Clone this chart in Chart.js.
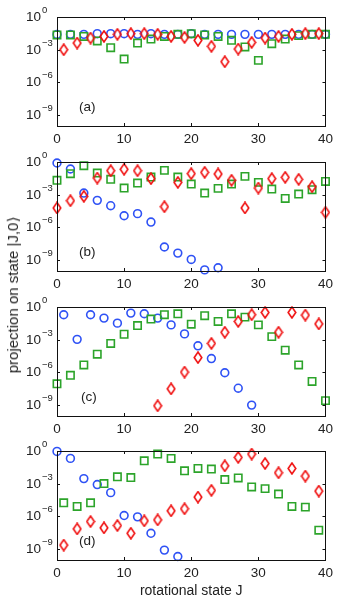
<!DOCTYPE html>
<html>
<head>
<meta charset="utf-8">
<script src="https://cdn.jsdelivr.net/npm/chart.js@4.4.0/dist/chart.umd.min.js"></script>
<style>
  body { margin: 0; background: #fff; width: 338px; height: 602px; position: relative; overflow: hidden; }
  canvas { position: absolute; left: 0; }
  #ytitle {
    position: absolute; left: 13px; top: 295px;
    transform: translate(-50%, -50%) rotate(-90deg);
    white-space: nowrap; font: 15px "Liberation Sans", Arial, sans-serif; color: #222;
  }
</style>
</head>
<body>
<canvas id="pa" width="338" height="145" style="top:0px"></canvas>
<canvas id="pb" width="338" height="145" style="top:145px"></canvas>
<canvas id="pc" width="338" height="145" style="top:290px"></canvas>
<canvas id="pd" width="338" height="168" style="top:434px"></canvas>
<div id="ytitle">projection on state |J,0⟩</div>
<script>
// rotational states
const evenJ = [0, 2, 4, 6, 8, 10, 12, 14, 16, 18, 20, 22, 24, 26, 28, 30, 32, 34, 36, 38, 40];
const oddJ = [1, 3, 5, 7, 9, 11, 13, 15, 17, 19, 21, 23, 25, 27, 29, 31, 33, 35, 37, 39];

// values are log10 of the projection
// panel (a)
const aBlueJ = evenJ;
const aBlue = [-1.6, -1.59, -1.59, -1.53, -1.53, -1.53, -1.59, -1.53, -1.59, -1.59, -1.53, -1.59, -1.59, -1.59, -1.59, -1.59, -1.59, -1.59, -1.59, -1.59, -1.59];
const aGreenJ = evenJ;
const aGreen = [-1.65, -1.65, -1.78, -2.2, -2.82, -3.86, -2.39, -2.02, -1.78, -1.59, -1.53, -1.65, -1.78, -2.14, -2.75, -3.98, -2.45, -2.02, -1.71, -1.59, -1.59];
const aRedJ = oddJ;
const aRed = [-3.0, -2.39, -1.93, -1.78, -1.59, -1.53, -1.53, -1.59, -1.78, -1.87, -2.14, -2.69, -4.1, -2.94, -2.33, -1.93, -1.78, -1.59, -1.53, -1.53];

// panel (b)
const bBlueJ = [0, 2, 4, 6, 8, 10, 12, 14, 16, 18, 20, 22, 24];
const bBlue = [-0.09, -0.64, -2.85, -3.52, -4.01, -4.93, -4.74, -5.51, -7.8, -8.36, -8.94, -9.9, -9.7];
const bGreenJ = evenJ;
const bGreen = [-1.68, -1.07, -0.34, -1.01, -1.59, -2.39, -1.93, -1.38, -0.77, -1.38, -2.02, -2.85, -2.42, -2.02, -1.32, -1.87, -2.48, -3.34, -2.94, -2.54, -1.78];
const bRedJ = evenJ;
const bRed = [-4.22, -3.55, -3.15, -1.47, -0.8, -0.67, -0.8, -1.53, -4.1, -1.87, -1.07, -0.95, -1.1, -1.68, -4.22, -2.39, -1.53, -1.41, -1.59, -2.27, -4.62];

// panel (c)
const cBlueJ = [1, 3, 5, 7, 9, 11, 13, 15, 17, 19, 21, 23, 25, 27, 29];
const cBlue = [-0.71, -2.97, -0.71, -1.02, -1.48, -0.56, -0.62, -1.02, -1.64, -2.47, -3.56, -4.73, -6.03, -7.45, -9.0];
const cGreenJ = evenJ;
const cGreen = [-7.05, -6.27, -5.32, -4.33, -3.34, -2.5, -1.7, -1.11, -0.71, -0.62, -1.58, -0.8, -1.33, -0.62, -0.93, -1.64, -2.72, -3.96, -5.32, -6.83, -8.59];
const cRedJ = [15, 17, 19, 21, 23, 25, 27, 29, 31, 33, 35, 37, 39];
const cRed = [-9.06, -7.51, -5.97, -4.64, -3.34, -2.32, -1.33, -0.71, -0.5, -2.32, -0.5, -0.74, -1.55];

// panel (d)
const dBlueJ = [0, 2, 4, 6, 8, 10, 12, 14, 16, 18];
const dBlue = [-0.04, -0.68, -2.53, -3.08, -3.82, -5.92, -6.04, -7.55, -9.09, -9.68];
const dGreenJ = oddJ;
const dGreen = [-4.75, -5.09, -4.75, -2.99, -2.37, -2.44, -0.9, -0.28, -0.68, -1.82, -1.6, -1.66, -2.62, -2.47, -3.3, -3.45, -3.95, -5.09, -5.15, -7.27];
const dRedJ = oddJ;
const dRed = [-8.63, -7.15, -6.47, -7.05, -6.84, -7.55, -6.41, -6.32, -5.49, -5.3, -4.23, -3.61, -1.36, -0.59, -0.28, -1.15, -2.0, -1.6, -2.3, -3.68];

const xTicks = [0, 10, 20, 30, 40];
const yTickExp = [0, -3, -6, -9];

const BLUE = "#2f52f5";
const GREEN = "#2ca42a";
const RED = "#f01010";
const FONT = '"Liberation Sans", Arial, sans-serif';

// tall narrow diamond marker
function diamondMarker() {
  const c = document.createElement("canvas");
  c.width = 10; c.height = 13;
  const g = c.getContext("2d");
  g.strokeStyle = RED;
  g.lineWidth = 1.6;
  g.beginPath();
  g.moveTo(5, 1); g.lineTo(8.8, 6.5); g.lineTo(5, 12); g.lineTo(1.2, 6.5);
  g.closePath();
  g.stroke();
  return c;
}
const diamond = diamondMarker();

function pts(js, vals) {
  return js.map((j, i) => ({ x: j, y: Math.pow(10, vals[i]) }));
}

// box, inward ticks, y labels with superscripts, panel letter
const framePlugin = {
  id: "frame",
  afterDraw(chart) {
    const ctx = chart.ctx;
    const a = chart.chartArea;
    const xs = chart.scales.x, ys = chart.scales.y;
    ctx.save();
    ctx.strokeStyle = "#111";
    ctx.lineWidth = 1;
    ctx.strokeRect(Math.round(a.left) + 0.5, Math.round(a.top) + 0.5, Math.round(a.right - a.left), Math.round(a.bottom - a.top));
    ctx.beginPath();
    xTicks.forEach(v => {
      const x = Math.round(xs.getPixelForValue(v)) + 0.5;
      ctx.moveTo(x, a.bottom); ctx.lineTo(x, a.bottom - 3);
      ctx.moveTo(x, a.top); ctx.lineTo(x, a.top + 3);
    });
    yTickExp.forEach(e => {
      const y = Math.round(ys.getPixelForValue(Math.pow(10, e))) + 0.5;
      ctx.moveTo(a.left, y); ctx.lineTo(a.left + 3, y);
      ctx.moveTo(a.right, y); ctx.lineTo(a.right - 3, y);
    });
    ctx.stroke();

    ctx.fillStyle = "#222";
    yTickExp.forEach(e => {
      const y = ys.getPixelForValue(Math.pow(10, e));
      ctx.font = "13.5px " + FONT;
      ctx.textAlign = "right";
      ctx.textBaseline = "alphabetic";
      ctx.fillText("10", 41, y + 4);
      ctx.font = "9.5px " + FONT;
      ctx.textAlign = "left";
      ctx.fillText(e === 0 ? "0" : "\u2212" + Math.abs(e), 42, y - 4);
    });

    ctx.font = "13.5px " + FONT;
    ctx.textAlign = "left";
    ctx.textBaseline = "middle";
    ctx.fillText(chart.options.plugins.frame.label, chart.options.plugins.frame.labelX, a.top + 90);
    ctx.restore();
  }
};

function makePanel(id, label, labelX, blue, green, red, xTitle) {
  const h = document.getElementById(id).height;
  new Chart(document.getElementById(id), {
    type: "scatter",
    data: {
      datasets: [
        { data: red, pointStyle: diamond, pointRadius: 5, borderColor: RED, clip: false },
        { data: green, pointStyle: "rect", pointRadius: 5.2, borderWidth: 1.6, borderColor: GREEN, backgroundColor: "rgba(0,0,0,0)", clip: false },
        { data: blue, pointStyle: "circle", pointRadius: 3.9, borderWidth: 1.6, borderColor: BLUE, backgroundColor: "rgba(0,0,0,0)", clip: false }
      ]
    },
    options: {
      responsive: false,
      animation: false,
      devicePixelRatio: 1,
      layout: { padding: { top: 17, right: 9, left: 0, bottom: 0 } },
      plugins: {
        legend: { display: false },
        tooltip: { enabled: false },
        frame: { label: label, labelX: labelX }
      },
      scales: {
        x: {
          type: "linear",
          min: 0, max: 40,
          grid: { display: false, drawTicks: false },
          border: { display: false },
          ticks: { stepSize: 10, padding: 5, color: "#222", font: { family: FONT, size: 13.5 } },
          title: { display: !!xTitle, text: xTitle || "", color: "#222", padding: { top: 0, bottom: 2 }, font: { family: FONT, size: 14 } },
          afterFit: s => { s.height = h - 17 - 109; }
        },
        y: {
          type: "logarithmic",
          min: 1e-10, max: 1,
          grid: { display: false, drawTicks: false },
          border: { display: false },
          ticks: { display: false },
          afterBuildTicks: s => { s.ticks = yTickExp.map(e => ({ value: Math.pow(10, e) })); },
          afterFit: s => { s.width = 57; }
        }
      }
    },
    plugins: [framePlugin]
  });
}

makePanel("pa", "(a)", 79, pts(aBlueJ, aBlue), pts(aGreenJ, aGreen), pts(aRedJ, aRed));
makePanel("pb", "(b)", 79, pts(bBlueJ, bBlue), pts(bGreenJ, bGreen), pts(bRedJ, bRed));
makePanel("pc", "(c)", 81, pts(cBlueJ, cBlue), pts(cGreenJ, cGreen), pts(cRedJ, cRed));
makePanel("pd", "(d)", 79, pts(dBlueJ, dBlue), pts(dGreenJ, dGreen), pts(dRedJ, dRed), "rotational state J");
</script>
</body>
</html>
